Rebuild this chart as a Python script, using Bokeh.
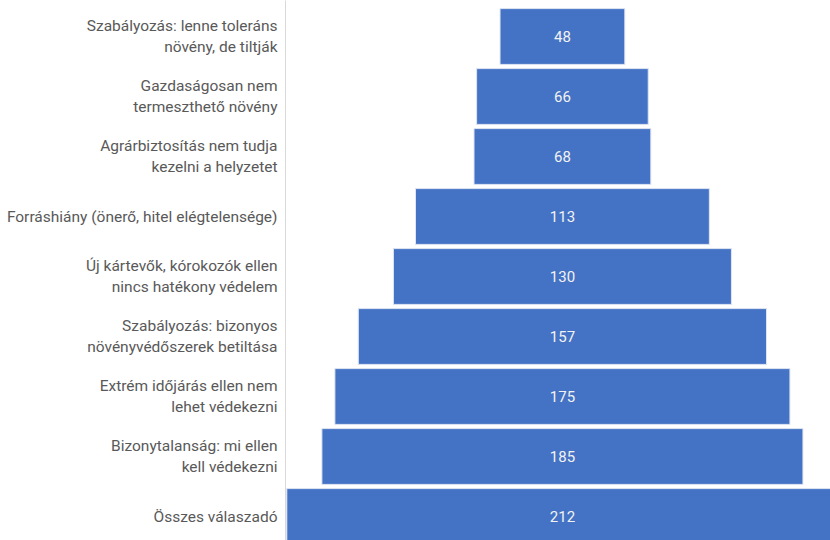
from bokeh.plotting import figure
from bokeh.models import ColumnDataSource, Range1d, FixedTicker
from bokeh.core.properties import value
from bokeh.embed import file_html
from bokeh.resources import INLINE

categories = [
    "Szabályozás: lenne toleráns\nnövény, de tiltják",
    "Gazdaságosan nem\ntermeszthető növény",
    "Agrárbiztosítás nem tudja\nkezelni a helyzetet",
    "Forráshiány (önerő, hitel elégtelensége)",
    "Új kártevők, kórokozók ellen\nnincs hatékony védelem",
    "Szabályozás: bizonyos\nnövényvédőszerek betiltása",
    "Extrém időjárás ellen nem\nlehet védekezni",
    "Bizonytalanság: mi ellen\nkell védekezni",
    "Összes válaszadó",
]
counts = [48, 66, 68, 113, 130, 157, 175, 185, 212]

idx = list(range(len(categories)))
src = ColumnDataSource(dict(
    y=idx,
    left=[-c / 2 for c in counts],
    right=[c / 2 for c in counts],
    lab=[str(c) for c in counts],
    x0=[0] * len(counts),
))

p = figure(width=830, height=540, output_backend="svg", toolbar_location=None,
           x_range=Range1d(-106.5, 103.1), y_range=Range1d(8.4, -0.6),
           min_border_left=285, min_border_right=0, min_border_top=0, min_border_bottom=0)
p.outline_line_color = None
p.grid.visible = False
p.xaxis.visible = False
p.background_fill_color = "white"

p.hbar(y="y", left="left", right="right", height=0.93, source=src,
       fill_color="#4472C4", line_color="#dfe6f3", line_width=1)
p.text(x="x0", y="y", text="lab", source=src, text_align="center",
       text_baseline="middle", text_color="#f2f2f2", text_font_size="15px",
       text_font=value("Roboto"))

ya = p.yaxis[0]
ya.ticker = FixedTicker(ticks=idx)
ya.major_label_overrides = {i: categories[i] for i in idx}
ya.major_tick_line_color = None
ya.minor_tick_line_color = None
ya.axis_line_color = "#d9d9d9"
ya.major_label_text_font = "Roboto"
ya.major_label_text_font_size = "15.5px"
ya.major_label_text_color = "#595959"
ya.major_label_standoff = 2
ya.major_label_text_align = "right"

open("out.html", "w").write(file_html(p, INLINE))
